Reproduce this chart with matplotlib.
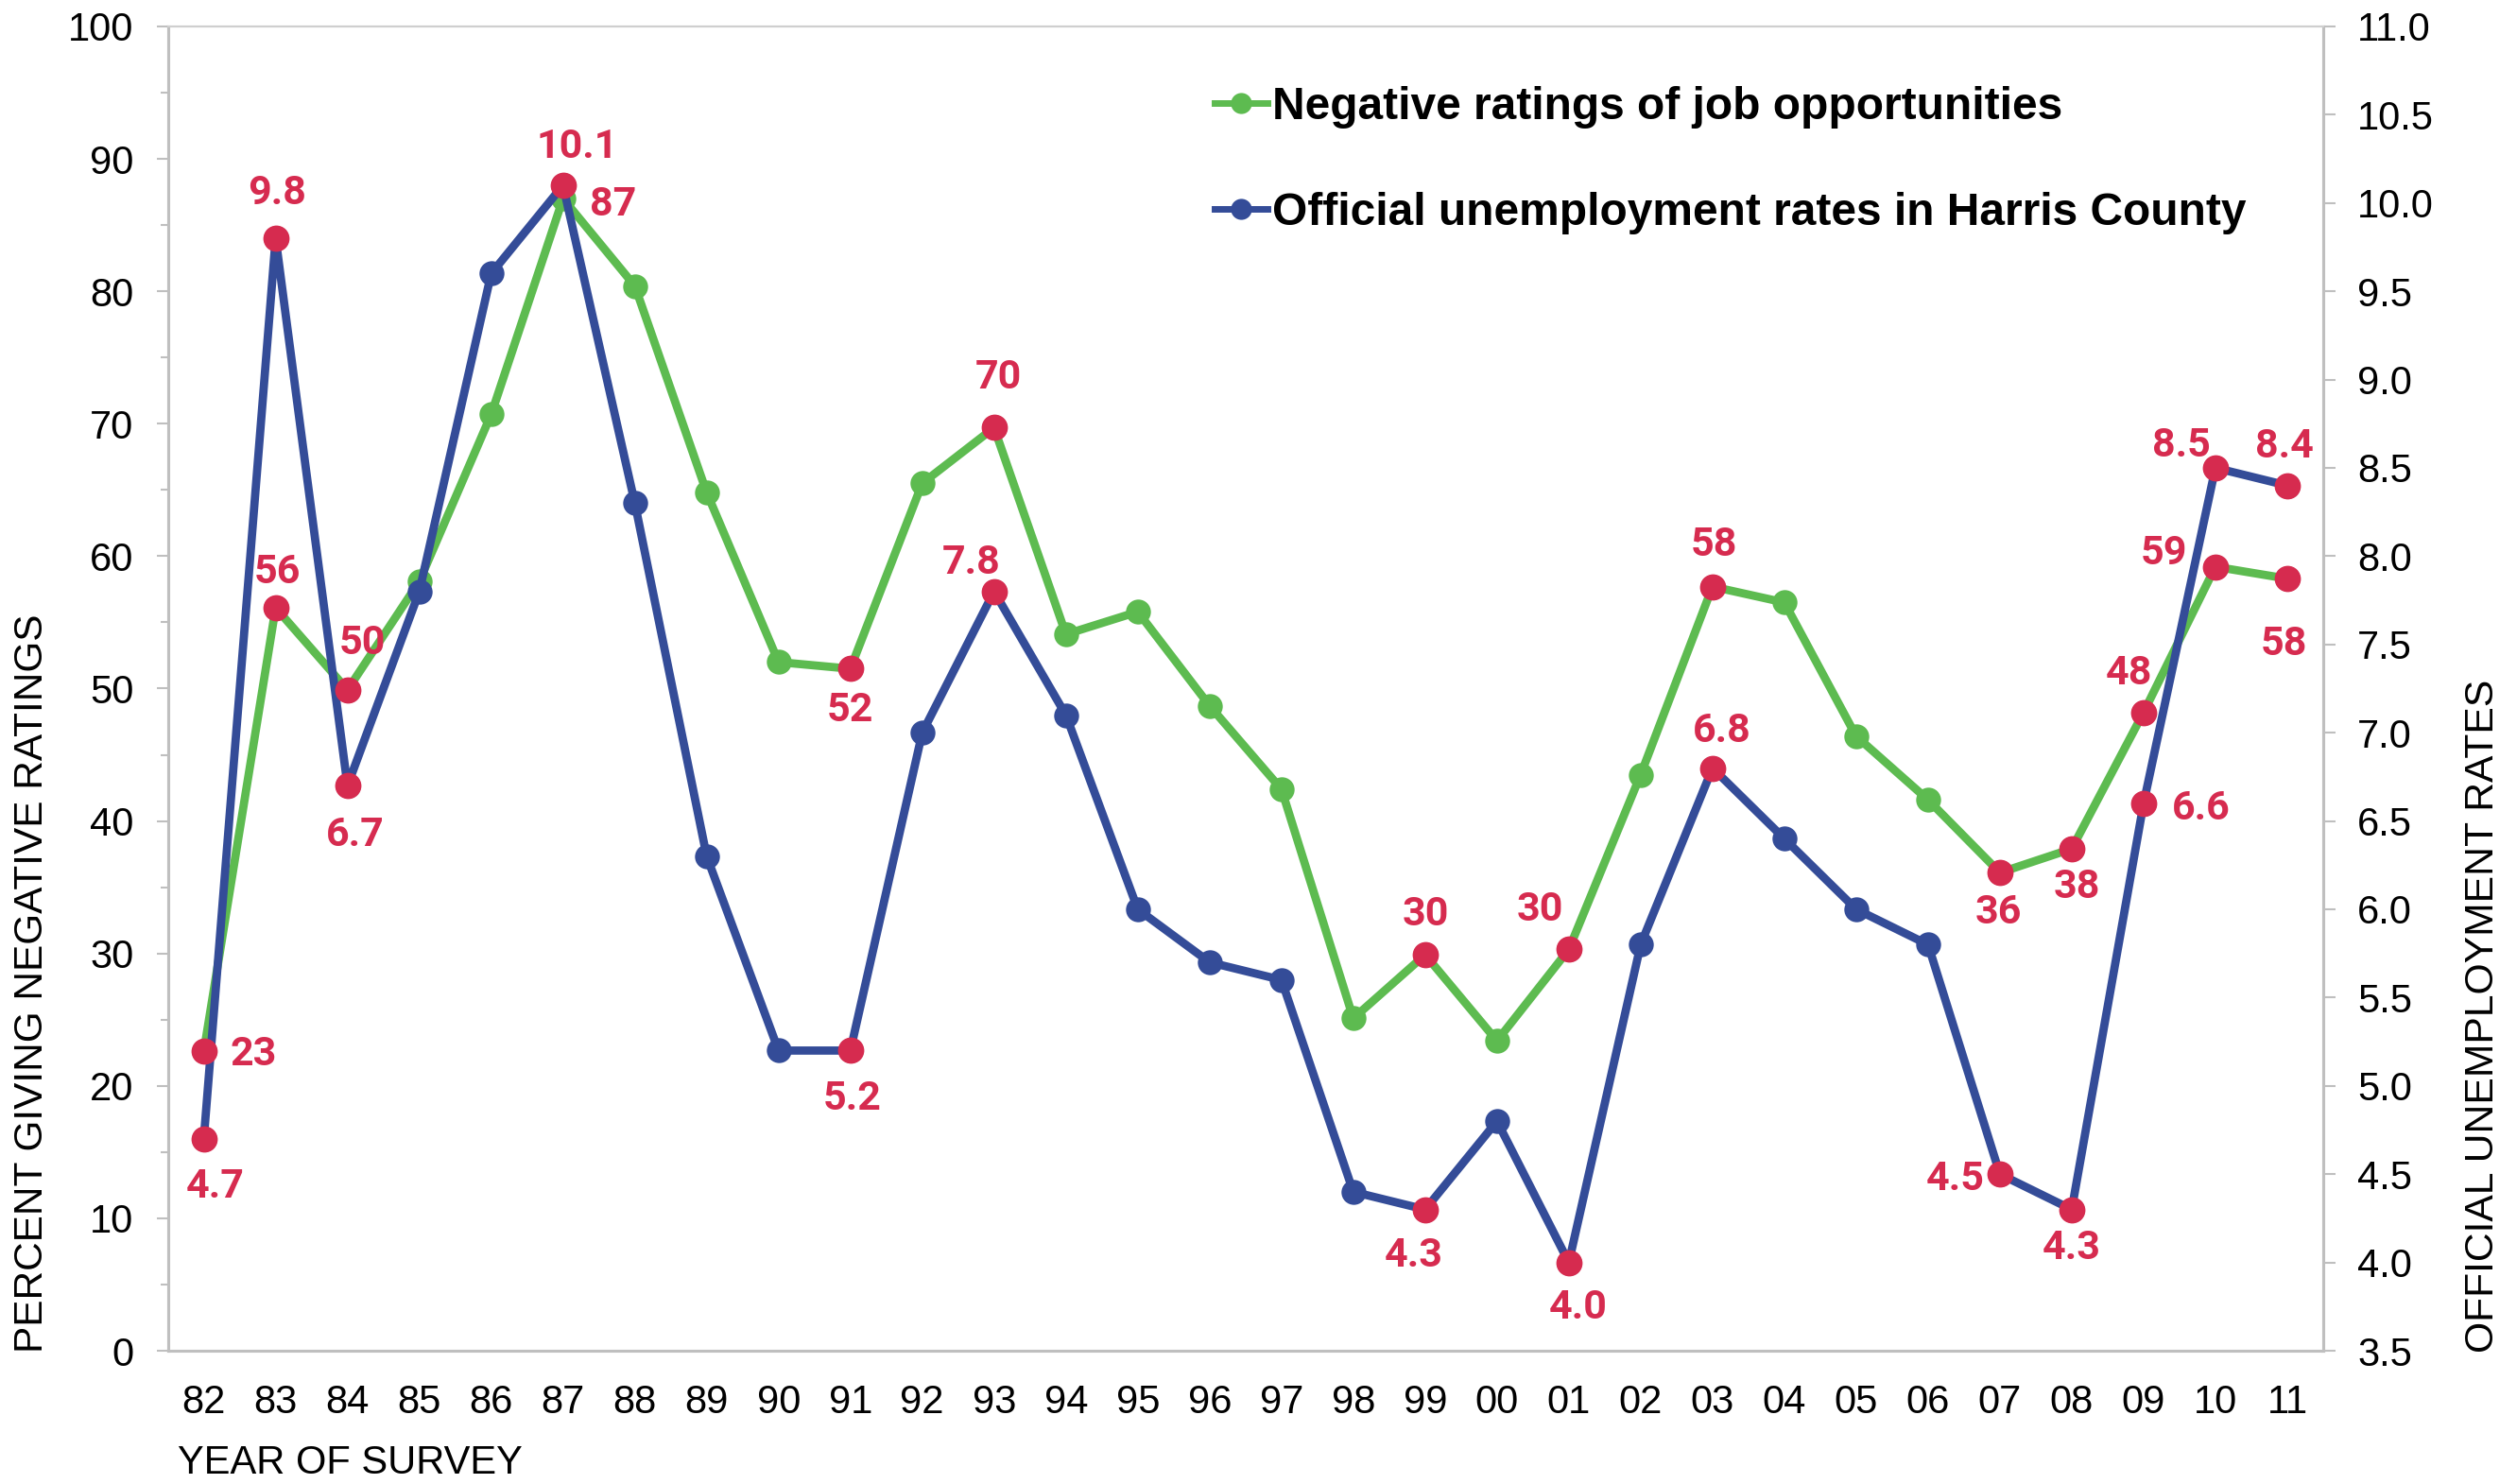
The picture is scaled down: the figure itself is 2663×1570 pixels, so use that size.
import numpy as np
import matplotlib
matplotlib.use("Agg")
import matplotlib.pyplot as plt
from matplotlib.ticker import MultipleLocator, FormatStrFormatter

# ---------------- data ----------------
years = ["82", "83", "84", "85", "86", "87", "88", "89", "90", "91", "92", "93", "94", "95", "96",
         "97", "98", "99", "00", "01", "02", "03", "04", "05", "06", "07", "08", "09", "10", "11"]
negative_ratings = [22.6, 56.1, 49.9, 58.1, 70.7, 87.0, 80.4, 64.8, 52.0, 51.5, 65.5, 69.7, 54.1, 55.8, 48.7,
                    42.4, 25.1, 29.9, 23.4, 30.3, 43.5, 57.7, 56.5, 46.4, 41.6, 36.1, 37.9, 48.2, 59.2, 58.3]
unemployment = [4.7, 9.8, 6.7, 7.8, 9.6, 10.1, 8.3, 6.3, 5.2, 5.2, 7.0, 7.8, 7.1, 6.0, 5.7,
                5.6, 4.4, 4.3, 4.8, 4.0, 5.8, 6.8, 6.4, 6.0, 5.8, 4.5, 4.3, 6.6, 8.5, 8.4]
neg_labeled = ["82", "83", "84", "87", "91", "93", "99", "01", "03", "07", "08", "09", "10", "11"]
neg_highlight = ["82", "83", "84", "91", "93", "99", "01", "03", "07", "08", "09", "10", "11"]
unemp_labeled = ["82", "83", "84", "87", "91", "93", "99", "01", "03", "07", "08", "09", "10", "11"]
legend_labels = ["Negative ratings of job opportunities", "Official unemployment rates in Harris County"]

# ---------------- style ----------------
GREEN = "#5DBB50"
BLUE = "#344C98"
RED = "#D62B4F"
GRAY = "#BFBFBF"
FONT = "Liberation Sans"
LABEL_FONT = "Roboto"
K = 1.2226  # display px of the reference -> points
DY0 = 2     # small global downward nudge of data labels (display px)

# label offsets (reference display px: dx right, dy down)
neg_off = {"82": (31, 0), "83": (1, -24), "84": (9, -31), "87": (31, 2), "91": (0, 24),
           "93": (3, -33), "99": (0, -27), "01": (-18, -27), "03": (1, -28), "07": (-1, 23),
           "08": (3, 22), "09": (-9, -26), "10": (-32, -10), "11": (-2, 39)}
unemp_off = {"82": (7, 28), "83": (1, -30), "84": (5, 29), "87": (9, -26), "91": (1, 28),
             "93": (-14, -20), "99": (-7, 27), "01": (6, 26), "03": (6, -25), "07": (-28, 1),
             "08": (0, 22), "09": (36, 1), "10": (-21, -16), "11": (-2, -26)}

fig = plt.figure(figsize=(26.63, 15.70), dpi=100)
ax = fig.add_axes([0.0667, 0.0898, 0.923 - 0.0667, 0.9822 - 0.0898])
ax2 = ax.twinx()

x = np.arange(len(years))
idx = {y: i for i, y in enumerate(years)}

LW = 6.3
MS = 19

g_line, = ax.plot(x, negative_ratings, color=GREEN, lw=LW, marker="o", ms=MS,
                  markeredgewidth=0, zorder=2, solid_joinstyle="round")
b_line, = ax2.plot(x, unemployment, color=BLUE, lw=LW, marker="o", ms=MS,
                   markeredgewidth=0, zorder=2, solid_joinstyle="round")

# red highlighted markers (all drawn on top axis)
hx = [idx[y] for y in neg_highlight]
ax2.plot(hx, [negative_ratings[i] for i in hx], transform=ax.transData, ls="none",
         marker="o", ms=MS + 1, color=RED, markeredgewidth=0, zorder=4)
ux = [idx[y] for y in unemp_labeled]
ax2.plot(ux, [unemployment[i] for i in ux], ls="none",
         marker="o", ms=MS + 1, color=RED, markeredgewidth=0, zorder=4)

for y in neg_labeled:
    i = idx[y]
    dx, dy = neg_off[y]
    ax2.annotate(f"{negative_ratings[i]:.0f}", xy=(i, negative_ratings[i]), xycoords=ax.transData,
                 xytext=(dx * K, -(dy + DY0) * K), textcoords="offset points", ha="center", va="center",
                 fontsize=31, fontweight="bold", color=RED, family=LABEL_FONT, zorder=5)
for y in unemp_labeled:
    i = idx[y]
    dx, dy = unemp_off[y]
    ax2.annotate(f"{unemployment[i]:.1f}", xy=(i, unemployment[i]),
                 xytext=(dx * K, -(dy + DY0) * K), textcoords="offset points", ha="center", va="center",
                 fontsize=31, fontweight="bold", color=RED, family=LABEL_FONT, zorder=5)

# axes
ax.set_xlim(-0.5, len(years) - 0.5)
ax.set_ylim(0, 100)
ax2.set_ylim(3.5, 11.0)
ax.set_xticks(x)
ax.set_xticklabels(years)
ax.yaxis.set_major_locator(MultipleLocator(10))
ax.yaxis.set_minor_locator(MultipleLocator(5))
ax2.yaxis.set_major_locator(MultipleLocator(0.5))
ax2.yaxis.set_major_formatter(FormatStrFormatter("%.1f"))

for a in (ax, ax2):
    for s in a.spines.values():
        s.set_color(GRAY)
        s.set_linewidth(2.2)
    a.spines["top"].set_linewidth(1.5)
    a.spines["top"].set_color("#CFCFCF")
ax.tick_params(axis="x", length=0, pad=25, labelsize=30)
ax.tick_params(axis="y", which="major", length=9, width=1.5, color=GRAY, pad=17, labelsize=30)
ax.tick_params(axis="y", which="minor", length=6, width=1.5, color=GRAY)
ax2.tick_params(axis="y", which="major", length=9, width=1.5, color=GRAY, pad=17, labelsize=30)
for lab in ax.get_xticklabels() + ax.get_yticklabels() + ax2.get_yticklabels():
    lab.set_family(FONT)

fig.text(34 / 2663, 1 - 1431 / 1570, "PERCENT GIVING NEGATIVE RATINGS", rotation=90,
         ha="center", va="bottom", fontsize=30.5, family=FONT)
fig.text(2627 / 2663, 1 - 1431 / 1570, "OFFICIAL UNEMPLOYMENT RATES", rotation=90,
         ha="center", va="bottom", fontsize=30.7, family=FONT)
fig.text(188 / 2663, 0.001, "YEAR OF SURVEY", ha="left", va="bottom", fontsize=30, family=FONT)

leg = ax2.legend([g_line, b_line], legend_labels, loc="upper left",
                 bbox_to_anchor=(0.4856, 0.955), frameon=False, borderpad=0, borderaxespad=0,
                 handlelength=1.17, handletextpad=0.1, labelspacing=1.4,
                 prop={"family": FONT, "weight": "bold", "size": 34.5})
for h in leg.legend_handles:
    h.set_markersize(16)
    h.set_linewidth(5)

fig.savefig("out.png", dpi=100)
